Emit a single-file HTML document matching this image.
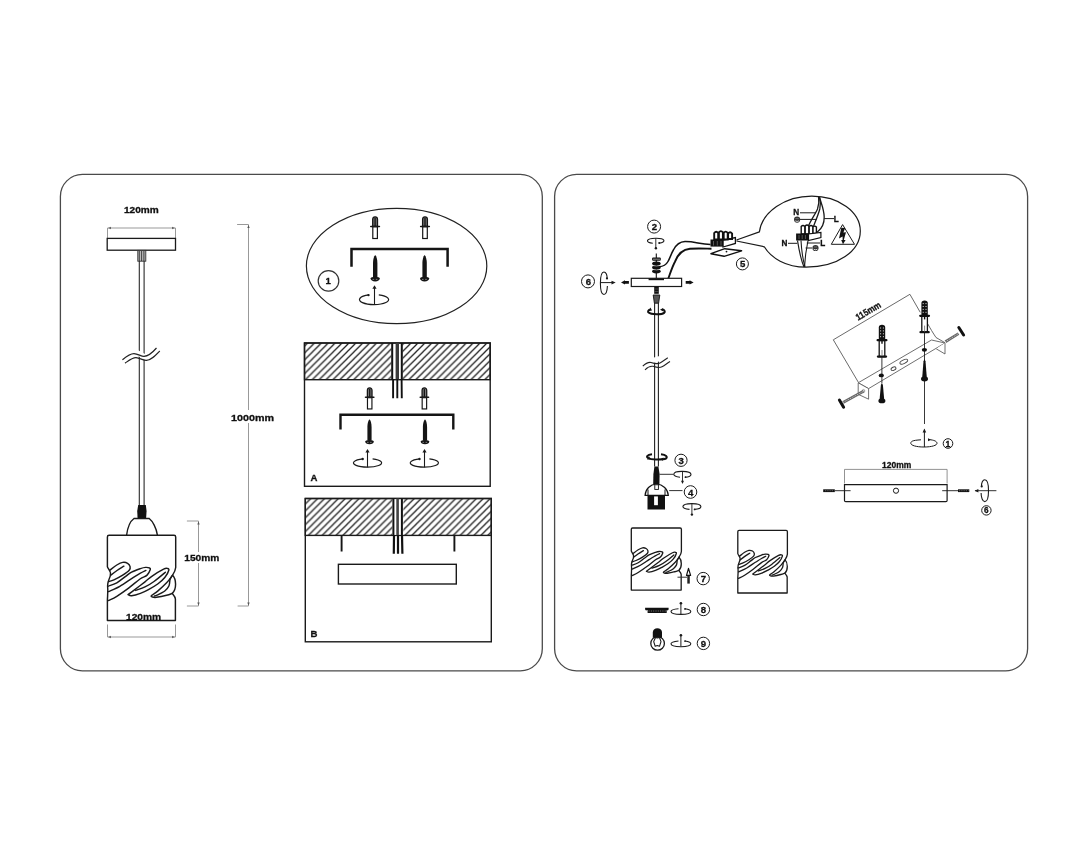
<!DOCTYPE html>
<html><head><meta charset="utf-8"><title>Installation</title>
<style>
html,body{margin:0;padding:0;background:#fff;width:1088px;height:846px;overflow:hidden}
svg{position:absolute;left:0;top:0;display:block;will-change:transform}
text{font-family:"Liberation Sans",sans-serif;font-weight:bold;fill:#111;stroke:#111;stroke-width:0.3}
</style></head><body>
<svg width="1088" height="846" viewBox="0 0 1088 846">
<defs>
  <pattern id="hatch" patternUnits="userSpaceOnUse" width="6.9" height="6.9" x="2" y="0">
    <path d="M-0.5,7.4 L7.4,-0.5 M-1,1 L1,-1 M5.9,7.9 L7.9,5.9" stroke="#222" stroke-width="1.3"/>
  </pattern>
  <g id="shade">
    <path d="M107.4,536.9 Q107.4,535.2 109.1,535.2 H174 Q175.7,535.2 175.7,536.9 V567.5 C175.5,570 174,573 172.5,575.3 C176.5,579 176.8,589.5 172.2,593.4 C173.5,595 175.4,597 175.4,599 V620.4 H107.4 V600 C107.6,595 108.2,591 107.6,586 C107.5,583 108,582 108.8,580 C110,577.5 110.8,575 110.5,573 C110.2,571 108,568.5 107.4,566.8 Z" fill="#fff" stroke="#1a1a1a" stroke-linejoin="round"/>
    <g fill="none" stroke="#1a1a1a" stroke-linecap="round" stroke-linejoin="round">
      <path d="M109.7,570.4 C110.9,569.5 114.6,566.3 116.8,565.0 C119.0,563.7 120.9,562.7 122.7,562.4 C124.5,562.1 126.4,562.6 127.6,563.3 C128.8,564.0 129.8,565.5 130.1,566.6 C130.4,567.8 130.4,568.8 129.2,570.2 C128.0,571.6 125.2,573.5 122.7,575.1 C120.2,576.7 116.3,578.7 113.9,579.8 C111.5,580.9 109.4,581.3 108.5,581.6"/>
      <path d="M123.9,566.2 C122.8,566.9 119.2,569.0 117.0,570.5 C114.8,572.0 111.9,574.3 110.9,575.1"/>
      <path d="M108.0,586.3 C109.5,585.7 113.8,584.5 116.8,582.8 C119.8,581.1 123.2,578.1 125.7,576.3 C128.2,574.5 129.2,573.4 131.6,572.1 C134.0,570.8 138.1,569.4 140.4,568.6 C142.7,567.8 144.0,567.5 145.5,567.4 C147.0,567.3 148.5,567.5 149.3,567.9 C150.1,568.3 150.7,568.4 150.3,569.6 C149.9,570.8 148.8,573.5 147.1,575.1 C145.4,576.7 143.1,576.8 140.0,579.0 C136.9,581.2 132.5,585.2 128.6,588.1 C124.7,591.0 120.1,594.2 116.8,596.3 C113.5,598.4 109.9,599.8 108.5,600.5"/>
      <path d="M108.5,591.6 C110.4,590.7 116.0,588.5 119.8,586.3 C123.6,584.1 128.2,580.8 131.6,578.6 C135.0,576.5 137.6,574.8 140.0,573.4 C142.4,572.0 144.9,570.9 145.9,570.4"/>
      <path d="M128.0,594.6 C129.1,593.8 131.7,591.9 134.5,589.8 C137.3,587.7 142.1,584.0 145.0,581.8 C147.9,579.5 148.7,578.4 151.8,576.3 C154.9,574.2 161.0,570.5 163.6,569.2 C166.2,567.9 166.5,568.3 167.4,568.5 C168.3,568.7 169.2,568.7 168.8,570.2 C168.4,571.7 166.7,575.2 164.8,577.5 C163.0,579.8 160.3,582.0 157.7,584.0 C155.0,586.0 151.8,587.7 148.9,589.3 C146.0,590.9 143.3,592.3 140.4,593.4 C137.5,594.5 133.7,595.6 131.6,595.8 C129.5,596.0 128.6,594.8 128.0,594.6"/>
      <path d="M135.7,590.4 C137.2,589.8 141.9,588.4 145.0,586.9 C148.1,585.4 150.6,584.0 154.0,581.5 C157.4,579.0 163.5,573.8 165.4,572.2"/>
      <path d="M172.5,575.3 C171.5,576.5 169.1,580.2 166.6,582.8 C164.1,585.4 160.2,589.0 157.7,591.1 C155.2,593.2 152.4,594.6 151.5,595.6 C150.6,596.6 151.7,596.7 152.5,597.0 C153.3,597.3 154.2,597.6 156.5,597.3 C158.8,597.0 164.0,595.9 166.6,595.2 C169.2,594.6 171.3,593.7 172.2,593.4"/>
      <path d="M172.5,575.3 C172.1,576.0 170.7,577.5 170.1,579.3 C169.5,581.0 169.9,583.8 169.0,585.8 C168.1,587.8 166.8,589.4 164.8,591.0 C162.8,592.6 158.7,594.4 157.0,595.2 C155.3,596.0 154.9,595.9 154.5,596.0"/>
    </g>
  </g>
  <g id="anchor">
    <path d="M-2.4,10 V3 Q-2.4,0.3 0,0.3 Q2.4,0.3 2.4,3 V10 Z" fill="#777" stroke="#151515" stroke-width="1.3"/>
    <path d="M0,1.5 V9.5" stroke="#151515" stroke-width="1.3"/>
    <path d="M-4.3,10 H4.3" stroke="#151515" stroke-width="1.6" stroke-linecap="round"/>
    <rect x="-2.3" y="10.4" width="4.6" height="11.6" fill="#fff" stroke="#151515" stroke-width="1.2"/>
  </g>
  <g id="screw">
    <path d="M0,0 C1.3,1.2 2.2,4.5 2.2,8 V22.8 H-2.2 V8 C-2.2,4.5 -1.3,1.2 0,0 Z" fill="#151515"/>
    <path d="M-4.6,23.6 Q-4.4,21.8 0,21.8 Q4.4,21.8 4.6,23.6 Q4.2,26.4 0,26.4 Q-4.2,26.4 -4.6,23.6 Z" fill="#151515"/>
    <path d="M-2.6,24.4 H-1 M0.6,24.4 H2.2" stroke="#aaa" stroke-width="0.7"/>
  </g>
  <g id="rotA">
    <path d="M-5.5,-0.96 A14,4.5 0 1 0 3,-0.99" fill="none" stroke="#1a1a1a" stroke-width="1.1" transform="translate(0,0)"/>
    <circle cx="-6" cy="-3.6" r="1.1" fill="#1a1a1a"/>
    <path d="M0,-14 V4.5" stroke="#1a1a1a" stroke-width="1"/>
    <path d="M-1.7,-10.8 L0,-14.6 L1.7,-10.8 Z" fill="#1a1a1a"/>
  </g>
</defs>

<!-- Panels -->
<rect x="60.4" y="174.4" width="481.9" height="496.4" rx="22" ry="22" fill="none" stroke="#4a4a4a" stroke-width="1.3"/>
<rect x="554.6" y="174.4" width="473" height="496.4" rx="22" ry="22" fill="none" stroke="#4a4a4a" stroke-width="1.3"/>

<!-- ============ LEFT PANEL ============ -->
<!-- top dimension 120mm -->
<text x="124" y="212.7" font-size="9.2" textLength="34.8" lengthAdjust="spacingAndGlyphs">120mm</text>
<path d="M107.5,238 V228 H175.5 V238" fill="none" stroke="#999" stroke-width="1"/><path d="M108,228 L111,226.8 V229.2 Z M175,228 L172,226.8 V229.2 Z" fill="#666"/>
<!-- canopy -->
<rect x="107.2" y="238.4" width="68.3" height="11.8" fill="#fff" stroke="#1a1a1a" stroke-width="1.3"/>
<!-- cable holder -->
<rect x="137.8" y="250.4" width="8" height="10.8" fill="#bbb" stroke="#333" stroke-width="0.9"/>
<path d="M139.3,251 V261 M141.6,251 V261 M143.9,251 V261" stroke="#222" stroke-width="0.8"/>
<!-- cable -->
<path d="M139.3,261 V505.4 M144.1,261 V505.4" stroke="#2a2a2a" stroke-width="1.1"/>
<!-- break mark -->
<path d="M136,352 L147,358" stroke="#fff" stroke-width="5"/>
<path d="M122.4,359.8 C127,356 130,353.5 134,353.6 C138,353.8 141,356.5 144,356.4 C149,356.2 153,352 156.5,348" fill="none" stroke="#222" stroke-width="1.2"/>
<path d="M125,363.2 C129.5,360 132.5,357.5 136,357.6 C140,357.8 143,360.5 146.5,360.4 C151,360.2 155,356 159.8,351" fill="none" stroke="#222" stroke-width="1.2"/>
<!-- grip -->
<path d="M138.2,505 H145.8 L146.6,511 L146.1,518.3 H137.6 L137.2,511 Z" fill="#111"/>
<path d="M126.6,535.2 C127.5,528 130.5,521 134,518.5 H149.2 C152.5,521 156.5,528 157.4,535.2" fill="#fff" stroke="#1a1a1a" stroke-width="1.4"/>
<use href="#shade" stroke-width="1.45"/>
<!-- bottom dim -->
<text x="126" y="620.2" font-size="9.2" textLength="35.2" lengthAdjust="spacingAndGlyphs">120mm</text>
<path d="M107.5,624.5 V637 H175.5 V624.5" fill="none" stroke="#999" stroke-width="1"/><path d="M108,637 L111,635.8 V638.2 Z M175,637 L172,635.8 V638.2 Z" fill="#666"/>
<!-- 150mm dim -->
<path d="M186.9,521 H198.5 V606 H186.9" fill="none" stroke="#999" stroke-width="1"/><path d="M198.5,521.5 L197.3,524.5 H199.7 Z M198.5,605.5 L197.3,602.5 H199.7 Z" fill="#555"/>
<rect x="183.5" y="552" width="37" height="11" fill="#fff"/>
<text x="184.3" y="561.4" font-size="9.6" textLength="35.1" lengthAdjust="spacingAndGlyphs">150mm</text>
<!-- 1000mm dim -->
<path d="M237.1,224.5 H248.5 V606 H237.6" fill="none" stroke="#999" stroke-width="1"/><path d="M248.5,225 L247.3,228 H249.7 Z M248.5,605.5 L247.3,602.5 H249.7 Z" fill="#555"/>
<rect x="229" y="410" width="47" height="13" fill="#fff"/>
<text x="231" y="420.7" font-size="9.6" textLength="43" lengthAdjust="spacingAndGlyphs">1000mm</text>

<!-- ellipse detail -->
<ellipse cx="396.6" cy="266" rx="90.2" ry="57.7" fill="none" stroke="#222" stroke-width="1.2"/>
<use href="#anchor" transform="translate(375.1,216.5)"/>
<use href="#anchor" transform="translate(425,216.5)"/>
<path d="M351.5,266.8 V249 H447.6 V266.8" fill="none" stroke="#151515" stroke-width="2.5"/>
<use href="#screw" transform="translate(375.2,255)"/>
<use href="#screw" transform="translate(424.6,255)"/>
<g transform="translate(374.5,299.8)"><path d="M-5.6,-4.85 A14.6,5 0 1 0 4.3,-4.9" fill="none" stroke="#1a1a1a" stroke-width="1.2"/><circle cx="-6" cy="-4.7" r="1.2" fill="#1a1a1a"/><path d="M0,-12 V5" stroke="#1a1a1a" stroke-width="1.1"/><path d="M-2.1,-11 L0,-14.5 L2.1,-11 Z" fill="#1a1a1a"/></g>
<circle cx="328.5" cy="280.9" r="10.3" fill="none" stroke="#333" stroke-width="1.2"/>
<text x="328.2" y="284.4" font-size="9.6" text-anchor="middle">1</text>

<!-- Box A -->
<rect x="304.5" y="343" width="185.7" height="143.3" fill="#fff" stroke="#1a1a1a" stroke-width="1.4"/>
<rect x="304.5" y="343" width="185.7" height="36.7" fill="url(#hatch)" stroke="#1a1a1a" stroke-width="1.4"/>
<rect x="391.4" y="344" width="11.2" height="35" fill="#fff"/>
<path d="M392.2,343 V379.7 M401.8,343 V379.7" stroke="#111" stroke-width="2"/>
<path d="M397.3,343 V379.7" stroke="#3a3a3a" stroke-width="3.4"/>
<path d="M393.1,379 L393.1,398.2 M397.3,379 V398.2 M401.6,379 L401.8,398.2" stroke="#111" stroke-width="1.9"/>
<use href="#anchor" transform="translate(369.7,387.6) scale(0.97)"/>
<use href="#anchor" transform="translate(424.4,387.6) scale(0.97)"/>
<path d="M340.5,429.6 V414.8 H453.3 V429.6" fill="none" stroke="#151515" stroke-width="2.4"/>
<use href="#screw" transform="translate(369.5,419.2) scale(0.95)"/>
<use href="#screw" transform="translate(425,419.2) scale(0.95)"/>
<g transform="translate(368.3,463)"><path d="M-5.4,-4.2 A14.1,4.3 0 1 0 4.3,-4.15" fill="none" stroke="#1a1a1a" stroke-width="1.2"/><circle cx="-5.6" cy="-4" r="1.2" fill="#1a1a1a"/><path d="M-0.8,-11 V4.3" stroke="#1a1a1a" stroke-width="1.1"/><path d="M-2.9000000000000004,-10.4 L-0.8,-14 L1.3,-10.4 Z" fill="#1a1a1a"/></g>
<g transform="translate(425.1,463)"><path d="M-5.4,-4.2 A14.1,4.3 0 1 0 4.3,-4.15" fill="none" stroke="#1a1a1a" stroke-width="1.2"/><circle cx="-5.6" cy="-4" r="1.2" fill="#1a1a1a"/><path d="M-0.6,-11 V4.3" stroke="#1a1a1a" stroke-width="1.1"/><path d="M-2.7,-10.4 L-0.6,-14 L1.5,-10.4 Z" fill="#1a1a1a"/></g>
<text x="310.4" y="481.2" font-size="9.6">A</text>

<!-- Box B -->
<rect x="305.3" y="498.5" width="186" height="143.3" fill="#fff" stroke="#1a1a1a" stroke-width="1.4"/>
<rect x="305.3" y="498.5" width="186" height="36.9" fill="url(#hatch)" stroke="#1a1a1a" stroke-width="1.4"/>
<rect x="392.3" y="499.3" width="11.1" height="35.5" fill="#fff"/>
<path d="M393.4,498.5 V535.4 M401.9,498.5 V535.4" stroke="#111" stroke-width="2"/>
<path d="M397.6,498.5 V535.4" stroke="#444" stroke-width="2.6"/>
<path d="M394,535 L393.8,553.7 M398,535 V553.7 M402,535 L402.4,553.7" stroke="#111" stroke-width="2.2"/>
<path d="M341.6,535.4 V551.4 M454.4,535.4 V551.4" stroke="#151515" stroke-width="1.9"/>
<rect x="338.4" y="564.3" width="117.9" height="19.7" fill="#fff" stroke="#1a1a1a" stroke-width="1.4"/>
<text x="310.6" y="636.6" font-size="9.6">B</text>


<!-- ============ RIGHT PANEL ============ -->
<g fill="none" stroke="#1a1a1a">
<!-- circle 2 + rotation -->
<circle cx="654.1" cy="226.6" r="6.5" stroke-width="1"/>
<path d="M652.8,243.2 C645,242.5 645.5,238.5 655.6,238.2 C665.5,238 666.5,242.2 659.2,243.1" stroke-width="1.1"/>
<path d="M655.8,238.2 V248" stroke-width="0.9"/>
</g>
<circle cx="659.2" cy="243.1" r="1" fill="#1a1a1a"/>
<circle cx="655.9" cy="248.3" r="1.2" fill="#1a1a1a"/>
<text x="654.4" y="230.1" font-size="9.6" text-anchor="middle">2</text>

<!-- spring stack -->
<path d="M656.3,253.5 V278" stroke="#111" stroke-width="1.1"/>
<rect x="652.1" y="257.5" width="8.7" height="3.3" rx="1" fill="#111"/>
<path d="M653,259.2 H660" stroke="#ddd" stroke-width="0.6"/>
<ellipse cx="656.4" cy="263.6" rx="4.3" ry="2.1" fill="#111"/>
<ellipse cx="656.4" cy="267.4" rx="4.3" ry="2.1" fill="#111"/>
<ellipse cx="656.4" cy="271.3" rx="4.3" ry="2.1" fill="#111"/>
<path d="M652.6,265.5 Q656.4,266.5 660.2,265.5 M652.6,269.4 Q656.4,270.4 660.2,269.4" fill="none" stroke="#fff" stroke-width="0.5"/>
<!-- wires -->
<path d="M659.2,266.7 C663,266.5 666.3,264.5 668,261.5 C670,258 671.5,253 673.4,250 C676,245 679.5,241.8 685,241.6 C695,241.5 700,244.2 710.5,244.4" fill="none" stroke="#111" stroke-width="1.5"/>
<path d="M668.4,278.3 C670.5,272.5 672.5,266 675,261.7 C678,254 682,249.5 690,248.8 C698,248.2 704,248.6 711.5,248.8" fill="none" stroke="#111" stroke-width="1.9"/>
<!-- canopy plate -->
<rect x="631.3" y="278.3" width="50.3" height="8.2" fill="#fff" stroke="#1a1a1a" stroke-width="1.2"/>
<path d="M648.6,279.3 H664" stroke="#111" stroke-width="1.8"/>
<path d="M621,282.4 L625,280.2 V281 H628.9 V283.8 H625 V284.6 Z" fill="#111"/>
<path d="M693.6,282.4 L689.6,280.2 V281 H685.7 V283.8 H689.6 V284.6 Z" fill="#111"/>
<!-- threaded + cone -->
<rect x="654.2" y="286.5" width="4.6" height="7.3" fill="#111"/>
<path d="M654.5,289 H658.5 M654.5,291.5 H658.5" stroke="#666" stroke-width="0.6"/>
<path d="M653.2,295 H659.8 L658.6,303.2 H654.4 Z" fill="#555" stroke="#111" stroke-width="0.9"/>
<!-- cable -->
<path d="M654.6,303 V466.5 M658.4,303 V466.5" stroke="#222" stroke-width="1.1"/>
<!-- rotation around cable 1 -->
<path d="M650,309.5 C646,311.5 648,314 656.6,314.3 C664,314.5 667,312 663,309.2" fill="none" stroke="#111" stroke-width="2"/>
<path d="M648.5,311 L650.5,307.5 L652,310.5 Z M663,308 L660,309.8 L663.5,311.5 Z" fill="#111"/>
<!-- break -->
<path d="M651,361 L662,358" stroke="#fff" stroke-width="5"/>
<path d="M642.8,366.2 C646,363 648,362 651,362.5 C654,363.5 657,364.5 660,363 C663,361.5 665,359.5 667.8,357.8" fill="none" stroke="#222" stroke-width="1.1"/>
<path d="M645,369.8 C648,366.8 650,365.8 653,366.3 C656,367.3 659,368.3 662,366.8 C665,365.3 667,363.3 670,361.6" fill="none" stroke="#222" stroke-width="1.1"/>

<!-- circle 6 left + rotation -->
<circle cx="588" cy="281.4" r="6.5" fill="none" stroke="#1a1a1a" stroke-width="1"/>
<text x="588.4" y="284.9" font-size="9.6" text-anchor="middle">6</text>
<path d="M607,278.4 C607.4,275 606,272 603.9,272 C601.7,272 600.4,276 600.4,283.2 C600.4,290.5 601.7,294.5 603.9,294.5 C606,294.5 607.2,291 607.4,286.1" fill="none" stroke="#1a1a1a" stroke-width="1.1"/>
<path d="M600.4,282.6 H612.5" stroke="#1a1a1a" stroke-width="1"/>
<path d="M615.7,282.6 L611.5,280.8 V284.4 Z" fill="#1a1a1a"/>
<circle cx="607" cy="278.4" r="1.1" fill="#1a1a1a"/>

<!-- terminal block -->
<g>
<path d="M710.9,253.7 L724.8,248.7 L741.6,250.8 L724.1,256.3 Z" fill="#fff" stroke="#111" stroke-width="1.4" stroke-linejoin="round"/>
<circle cx="726.5" cy="251.6" r="0.9" fill="#111"/>
<path d="M723,240 L735.4,237.6 V243.4 L723,247 Z" fill="#fff" stroke="#111" stroke-width="1.3"/>
<path d="M714.2,233 Q716.2,230.6 718.2,233 V239.5 H714.2 Z M718.9,232.3 Q720.9,229.9 722.9,232.3 V239.5 H718.9 Z M723.7,232.8 Q725.7,230.4 727.7,232.8 V239.5 H723.7 Z M728.1,233.5 Q730.1,231.1 732.1,233.5 V239 H728.1 Z" fill="#fff" stroke="#111" stroke-width="1.9"/>
<path d="M710.5,239.5 H723.2 V246.6 H710.5 Z" fill="#111"/>
<path d="M713.5,241 V245.5 M717.3,241 V245.5 M721,241 V245.5" stroke="#777" stroke-width="0.7"/>
</g>
<circle cx="742.4" cy="263.9" r="6" fill="none" stroke="#1a1a1a" stroke-width="1"/>
<text x="742.6" y="267.4" font-size="9.6" text-anchor="middle">5</text>

<!-- bubble -->
<path d="M736.5,240 L759.4,231.9 C762,212 785,196.2 811.8,196.2 C839,196.2 860.3,212 860.3,231 C860.3,251 838,267.2 806,267.2 C786,267.2 771,258 764.3,246.8 L736.5,241" fill="#fff" stroke="#1a1a1a" stroke-width="1.2" stroke-linejoin="round"/>
<g fill="none" stroke="#1a1a1a" stroke-width="1">
<path d="M800,212.8 H816 M799.7,219.4 H816.8 M824.2,218.6 H834 M788,243.3 H797.3 M806.8,243 H820 M805.6,248 H812"/>
<path d="M818.6,197 C819.2,201 818.8,205 817.5,209 C815.5,214 811.5,219 808.6,225.5" stroke-width="1.3"/>
<path d="M819.4,197 C820.6,201 820.6,205 819.8,209 C818.5,214 816,220 813.6,226" stroke-width="1.3"/>
<path d="M819.6,197.5 C821,203 824,209 824.2,217 C824.3,224 821,229 817.9,231.5 L815,234" stroke-width="1.3"/>
<path d="M797.5,240.5 C799,250 801,260 804,267" stroke-width="1.2"/>
<path d="M801,240.5 C801.5,250 802.5,258 805,267" stroke-width="1.1"/>
<path d="M808,240.5 C806,250 805,258 804.5,267" stroke-width="1.1"/>
<path d="M831.3,244.3 L842.6,224.6 L854.5,244.3 Z" stroke-width="1"/>
</g>
<path d="M841.3,227.8 L845.2,228 L843.4,232.4 L846,232.2 L843.8,240 L845.6,240 L843,244.3 L841.2,240 L842.6,240 L842.6,236.4 L839,238.6 Z" fill="#111"/>
<circle cx="797.1" cy="219.6" r="3.1" fill="#333"/>
<path d="M795.3,220.9 Q797.1,222 798.9,220.9" fill="none" stroke="#fff" stroke-width="0.8"/>
<path d="M795.5,218.6 H798.7" stroke="#999" stroke-width="0.6"/>
<circle cx="815.5" cy="248" r="3.1" fill="#333"/>
<path d="M813.7,249.3 Q815.5,250.4 817.3,249.3" fill="none" stroke="#fff" stroke-width="0.8"/>
<path d="M813.9,247 H817.1" stroke="#999" stroke-width="0.6"/>
<path d="M801.2,226.5 Q803,224.6 804.8,226.5 V234 H801.2 Z M805.2,226 Q807,224 808.8,226 V234 H805.2 Z M809.2,226.5 Q811,224.6 812.8,226.5 V234 H809.2 Z M813,227 Q814.7,225.2 816.4,227 V233.5 H813 Z" fill="#fff" stroke="#111" stroke-width="1.4"/>
<path d="M808.5,234 L820.9,232.5 V237.6 L808.5,240.5 Z" fill="#fff" stroke="#111" stroke-width="1.2"/>
<rect x="796.1" y="233.5" width="12.4" height="7" fill="#111"/>
<path d="M799,235 V239 M802.2,235 V239 M805.4,235 V239" stroke="#888" stroke-width="0.6"/>
<text x="793.3" y="215.3" font-size="8.2">N</text>
<text x="833.8" y="221.9" font-size="8.2">L</text>
<text x="781.6" y="245.9" font-size="8.2">N</text>
<text x="820.2" y="245.9" font-size="8.2">L</text>

<!-- ===== isometric bracket ===== -->
<g fill="none" stroke="#444" stroke-width="0.8">
<path d="M858.2,382 L833.3,339.8 L909.9,294.3 L920.3,312.4"/>
<path d="M927.8,324 C930,328 933,333 936,337.5 L945,342.7"/>
</g>
<text font-size="9.4" transform="translate(858.1,320.7) rotate(-30.5)" textLength="27.5" lengthAdjust="spacingAndGlyphs">115mm</text>
<!-- bar -->
<g fill="#fff" stroke="#555" stroke-width="0.85" stroke-linejoin="round">
<path d="M858.2,382.8 L931.5,340 L945,343 L868.6,388.6 Z"/>
<path d="M858.2,382.8 V394.3 L868.6,399.2 V388.6 Z"/>
<path d="M936.2,348.8 L945,354 V343"/>
</g>
<ellipse cx="893.5" cy="368.7" rx="2.6" ry="1.6" transform="rotate(-25 893.5 368.7)" fill="#fff" stroke="#444" stroke-width="0.9"/>
<ellipse cx="903.8" cy="361.7" rx="4.2" ry="1.8" transform="rotate(-25 903.8 361.7)" fill="#fff" stroke="#444" stroke-width="0.9"/>
<ellipse cx="863.5" cy="391" rx="1.3" ry="1.6" fill="#ddd" stroke="#777" stroke-width="0.6"/>
<!-- horizontal screws -->
<path d="M843,402.5 L863.5,391.3" stroke="#666" stroke-width="2.8"/>
<path d="M843,402.5 L863.5,391.3" stroke="#ccc" stroke-width="1" stroke-dasharray="1 1"/>
<path d="M839.4,400 L843.6,407.2" stroke="#111" stroke-width="3" stroke-linecap="round"/>
<path d="M945.4,341.8 L958.5,333.6" stroke="#666" stroke-width="2.8"/>
<path d="M945.4,341.8 L958.5,333.6" stroke="#ccc" stroke-width="1" stroke-dasharray="1 1"/>
<path d="M958.8,327.5 L963.6,335" stroke="#111" stroke-width="3" stroke-linecap="round"/>
<!-- anchors iso -->
<g id="isoanchor">
<path d="M878.8,339.5 V327.5 Q878.8,324.8 882,324.8 Q885.2,324.8 885.2,327.5 V339.5 Z" fill="#111"/>
<path d="M880.6,327.5 V338 M883.4,327.5 V338" stroke="#fff" stroke-width="0.9" stroke-dasharray="1 1.9"/>
<rect x="879.2" y="340.5" width="5.6" height="16" fill="#fff" stroke="#111" stroke-width="1.3"/>
<path d="M877.6,340.2 H886.4 M877.9,356.6 H886.1" stroke="#111" stroke-width="2.2" stroke-linecap="round"/>
<path d="M882,341 V343.8" stroke="#111" stroke-width="1.4"/>
<path d="M882,350 V356" stroke="#777" stroke-width="0.9"/>
</g>
<use href="#isoanchor" transform="translate(42.6,-24.4)"/>
<path d="M881.9,357 V383 M924.5,332.6 V424" stroke="#222" stroke-width="0.9"/>
<ellipse cx="881.3" cy="375.4" rx="2.6" ry="1.9" fill="#111"/>
<ellipse cx="924.4" cy="349.8" rx="2.6" ry="1.9" fill="#111"/>
<path d="M881.9,382.8 L882.9,385 L884.2,399.5 H879.6 L880.9,385 Z" fill="#111"/>
<ellipse cx="881.9" cy="400.9" rx="3.5" ry="2.4" fill="#111"/>
<path d="M924.5,359 L925.5,361.2 L926.8,377.5 H922.2 L923.5,361.2 Z" fill="#111"/>
<ellipse cx="924.5" cy="379" rx="3.5" ry="2.4" fill="#111"/>
<!-- rotation 1 -->
<path d="M921,439.8 C912,440.3 910.8,441.5 910.8,443.3 C910.8,445.3 916,447 924,447 C932,447 937,445.3 937,443.3 C937,441.3 934,440 929,439.6" fill="none" stroke="#1a1a1a" stroke-width="1"/>
<path d="M924.4,429.6 V447" stroke="#1a1a1a" stroke-width="1"/>
<path d="M922.6,432.5 L924.4,428.6 L926.2,432.5 Z" fill="#1a1a1a"/>
<path d="M928,438.2 L931,439.8 L928,441.3 Z" fill="#1a1a1a"/>
<circle cx="948" cy="443.5" r="4.8" fill="none" stroke="#1a1a1a" stroke-width="1"/>
<text x="947.8" y="446.6" font-size="8.6" text-anchor="middle">1</text>

<!-- bar 120mm -->
<text x="882" y="467.6" font-size="8.2" textLength="29.2" lengthAdjust="spacingAndGlyphs">120mm</text>
<path d="M844.5,483.5 V469.4 H947.1 V483.5" fill="none" stroke="#777" stroke-width="0.8"/>
<path d="M844.5,484.7 H947.1 V500.5 Q947.1,501.7 945.9,501.7 H845.7 Q844.5,501.7 844.5,500.5 Z" fill="#fff" stroke="#1a1a1a" stroke-width="1.2"/>
<circle cx="896" cy="490.7" r="2.6" fill="none" stroke="#1a1a1a" stroke-width="1"/>
<path d="M823.2,490.7 H834.8" stroke="#111" stroke-width="2.8"/>
<path d="M825,490.7 H834" stroke="#888" stroke-width="0.8" stroke-dasharray="0.8 1"/>
<path d="M834.8,490.7 H850.6 M942.2,490.7 H958" stroke="#1a1a1a" stroke-width="0.9"/>
<path d="M958,490.7 H969.3" stroke="#111" stroke-width="2.8"/>
<path d="M959,490.7 H968.5" stroke="#888" stroke-width="0.8" stroke-dasharray="0.8 1"/>
<path d="M975,490.7 H996.4" stroke="#1a1a1a" stroke-width="0.9"/>
<path d="M974.6,490.7 L978.4,488.9 V492.5 Z" fill="#1a1a1a"/>
<path d="M981.6,486.4 C981.2,482.5 982.8,479.8 984.8,479.8 C987,479.8 988.5,484 988.5,490.7 C988.5,497.5 987,501.6 984.8,501.6 C982.6,501.6 981.1,497.5 981.1,493" fill="none" stroke="#1a1a1a" stroke-width="1.1"/>
<circle cx="981.7" cy="486.4" r="1.1" fill="#1a1a1a"/>
<circle cx="986.4" cy="510.4" r="4.7" fill="none" stroke="#1a1a1a" stroke-width="1"/>
<text x="986.4" y="513.4" font-size="8.2" text-anchor="middle">6</text>

<!-- ===== socket ===== -->
<path d="M648,458 C646,456.5 647,455 652,454.3 M661,454.3 C666,455 668,456.5 666,458.5 C664,459.5 660,459.5 657,459.5 C654,459.6 650,459.2 648,458" fill="none" stroke="#111" stroke-width="2"/>
<path d="M647,459.5 L649,456 L650.5,459.5 Z M663,460.8 L660,459.2 L663.5,457.6 Z" fill="#111"/>
<circle cx="681" cy="460.3" r="6.1" fill="none" stroke="#1a1a1a" stroke-width="1"/>
<text x="681.2" y="463.8" font-size="9.6" text-anchor="middle">3</text>
<path d="M654.4,466.5 H658.4 L659.6,474 L659.4,484 H653.2 L653.4,474 Z" fill="#111"/>
<path d="M659.6,474.3 H673.5" stroke="#1a1a1a" stroke-width="0.9"/>
<path d="M680,477.2 C674,476.8 673.8,474.5 673.8,474.3 C674,472 678,471.3 682.5,471.4 C687,471.5 691,472.3 691,474.4 C691,476 688,477 685,477.2" fill="none" stroke="#1a1a1a" stroke-width="1.1"/>
<path d="M682.5,471.4 V482" stroke="#1a1a1a" stroke-width="0.9"/>
<path d="M681,480.8 L682.5,484 L684,480.8 Z" fill="#1a1a1a"/>
<circle cx="685.5" cy="477.2" r="0.9" fill="#1a1a1a"/>
<path d="M645.1,495.3 C645.5,489 650,484.5 656.5,484 C663,484.5 667.8,489 668.3,495.3 Z" fill="#fff" stroke="#111" stroke-width="1.2"/>
<path d="M648,495 V489.5 M665,495 V489.5" stroke="#111" stroke-width="1"/>
<rect x="654.8" y="484.8" width="3.6" height="4.6" fill="#fff" stroke="#111" stroke-width="0.9"/>
<rect x="647.5" y="495.3" width="17.5" height="14.2" fill="#111"/>
<rect x="654.1" y="496.4" width="3.8" height="8.8" fill="#fff"/>
<path d="M669.2,490.6 H682.5" stroke="#1a1a1a" stroke-width="0.9"/>
<circle cx="690.5" cy="492" r="6.3" fill="none" stroke="#1a1a1a" stroke-width="1"/>
<text x="690.6" y="495.5" font-size="9.6" text-anchor="middle">4</text>
<path d="M689.5,509.4 C683,509 682.9,506.8 682.9,506.6 C683,504.3 687,503.6 691.9,503.6 C696.5,503.6 700.9,504.4 700.9,506.6 C700.9,508.5 697.5,509.3 694.5,509.4" fill="none" stroke="#1a1a1a" stroke-width="1.1"/>
<path d="M691.9,503.6 V514" stroke="#1a1a1a" stroke-width="0.9"/>
<circle cx="691.9" cy="514.6" r="1.2" fill="#1a1a1a"/>
<circle cx="694.6" cy="509.4" r="0.9" fill="#1a1a1a"/>

<!-- shades right -->
<use href="#shade" stroke-width="1.8" transform="translate(631.3,528) scale(0.7335,0.729) translate(-107.4,-535.2)"/>
<use href="#shade" stroke-width="1.8" transform="translate(737.8,530.4) scale(0.726,0.735) translate(-107.4,-535.2)"/>
<path d="M677.5,577.2 H687" stroke="#333" stroke-width="1"/>
<path d="M687.3,583.6 V575.5 H689.8 V583.6 Z" fill="#222"/><path d="M686.5,575.4 L688.5,568.3 L690.6,575.4 Z" fill="#fff" stroke="#111" stroke-width="1.2" stroke-linejoin="round"/>
<circle cx="703.2" cy="578.6" r="6.2" fill="none" stroke="#1a1a1a" stroke-width="1"/>
<text x="703.4" y="582.1" font-size="9.6" text-anchor="middle">7</text>

<!-- 8 ring -->
<path d="M645.1,607.8 H668.6 V609.4 L667.8,610.4 L666.7,610 V613 H647.6 V610 L646,610.4 L645.1,609.4 Z" fill="#111"/>
<path d="M648.6,611 H666" stroke="#888" stroke-width="0.9" stroke-dasharray="1 1.3"/>
<g fill="none" stroke="#1a1a1a" stroke-width="1.1">
<path d="M678.5,608.8 C674,609.2 671,610.3 671,611.5 C671,613.2 675.5,614.4 680.9,614.4 C686.5,614.4 690.8,613.2 690.8,611.5 C690.8,610.3 688.5,609.3 685,608.8"/>
<path d="M678.5,641 C674,641.5 671,642.6 671,643.8 C671,645.5 675.5,646.7 680.9,646.7 C686.5,646.7 690.8,645.5 690.8,643.8 C690.8,642.6 688.5,641.6 685,641"/>
</g>
<path d="M680.9,603 V614 M680.9,635.2 V646.4" stroke="#1a1a1a" stroke-width="1"/>
<circle cx="680.9" cy="603.2" r="1.3" fill="#1a1a1a"/>
<circle cx="680.9" cy="635.3" r="1.3" fill="#1a1a1a"/>
<circle cx="685" cy="608.9" r="0.9" fill="#1a1a1a"/>
<circle cx="685" cy="641.1" r="0.9" fill="#1a1a1a"/>
<circle cx="703.4" cy="609.5" r="6.2" fill="none" stroke="#1a1a1a" stroke-width="1"/>
<text x="703.5" y="613.0" font-size="9.6" text-anchor="middle">8</text>
<!-- bulb -->
<circle cx="657.6" cy="643.4" r="6.8" fill="#fff" stroke="#1a1a1a" stroke-width="1.3"/>
<path d="M652.8,637.8 V632 Q653.5,628.3 657.4,628.3 Q661.3,628.3 662,632 V637.8 Z" fill="#111"/>
<path d="M655.5,637.5 L657.2,638 L659.5,637.5 L661,641.6 L659.5,646.3 L657.3,645.6 L655.2,646.3 L653.7,641.6 Z" fill="none" stroke="#1a1a1a" stroke-width="1.1" stroke-linejoin="round"/>
<circle cx="703.4" cy="643.4" r="6.2" fill="none" stroke="#1a1a1a" stroke-width="1"/>
<text x="703.5" y="646.9" font-size="9.6" text-anchor="middle">9</text>

</svg>
</body></html>
